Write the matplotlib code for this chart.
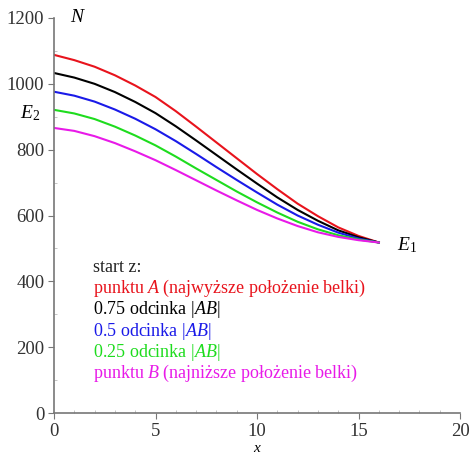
import numpy as np
import matplotlib
matplotlib.use("Agg")
import matplotlib.pyplot as plt
from matplotlib.ticker import MultipleLocator

plt.rcParams['font.family'] = ['Liberation Serif', 'DejaVu Serif']
plt.rcParams['mathtext.fontset'] = 'custom'
plt.rcParams['mathtext.rm'] = 'Liberation Serif'
plt.rcParams['mathtext.it'] = 'Liberation Serif:italic'

# x positions (m) and normal force N for each starting point
xs = [0, 1, 2, 3, 4, 5, 6, 7, 8, 9, 10, 11, 12, 13, 14, 15, 16]
n_A = [1088, 1072, 1052, 1026, 995, 960, 917, 870, 822, 774, 726, 680, 636, 598, 564, 538, 518]
n_075 = [1033, 1019, 1000, 975, 945, 911, 871, 828, 784, 740, 697, 655, 617, 584, 555, 534, 518]
n_05 = [976, 964, 946, 922, 894, 862, 826, 787, 747, 708, 670, 633, 600, 572, 548, 530, 518]
n_025 = [921, 910, 893, 870, 843, 813, 779, 743, 708, 673, 640, 609, 581, 558, 540, 527, 518]
n_B = [866, 857, 841, 820, 795, 768, 738, 707, 676, 646, 617, 591, 568, 549, 535, 525, 518]

labels = ['punktu $A$ (najwyższe położenie belki)',
          '0.75 odcinka $|AB|$',
          '0.5 odcinka $|AB|$',
          '0.25 odcinka $|AB|$',
          'punktu $B$ (najniższe położenie belki)']
colors = ['#e8131c', '#000000', '#1a1ae8', '#1edc1e', '#e81ae8']

fig = plt.figure(figsize=(4.71, 4.53), dpi=100)
ax = fig.add_axes([54/471, 40/453, 406/471, 395/453])

for ys, c in zip([n_A, n_075, n_05, n_025, n_B], colors):
    ax.plot(xs, ys, color=c, lw=1.5)

ax.set_xlim(0, 20)
ax.set_ylim(0, 1200)
ax.xaxis.set_major_locator(MultipleLocator(5))
ax.xaxis.set_minor_locator(MultipleLocator(1))
ax.yaxis.set_major_locator(MultipleLocator(200))
ax.yaxis.set_minor_locator(MultipleLocator(100))
for s in ['top', 'right']:
    ax.spines[s].set_visible(False)
for s in ['left', 'bottom']:
    ax.spines[s].set_color('#777777')
    ax.spines[s].set_linewidth(1.2)
ax.tick_params(which='major', length=4, color='#777777', labelsize=13.5,
               labelcolor='#333333', pad=3)
ax.tick_params(which='minor', length=2, color='#bbbbbb', direction='in')

# axis labels placed like the original
ax.text(0.8, 1200, '$N$', fontsize=14, va='center', ha='left')
ax.text(-1.2, 912, '$E_2$', fontsize=14, va='center', ha='center', clip_on=False)
ax.text(16.9, 510, '$E_1$', fontsize=14, va='center', ha='left')
fig.text(257/471, 5/453, '$x$', fontsize=11, ha='center', va='center')

# legend text block
y0 = 441
ax.text(1.9, y0, 'start z:', fontsize=13, va='center', color='#222222')
for i, (lab, c) in enumerate(zip(labels, colors)):
    ax.text(1.9, y0 - 64*(i+1), lab, fontsize=13, va='center', color=c)

fig.savefig('out.png', dpi=100)
